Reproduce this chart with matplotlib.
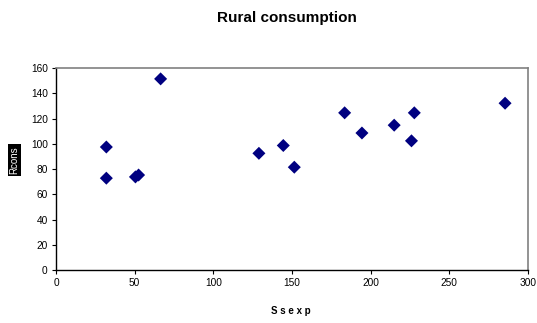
import matplotlib.pyplot as plt

plt.rcParams['font.family'] = ['Liberation Sans', 'DejaVu Sans']

# Rural consumption against Ssexp
ssexp = [32, 32, 50.5, 52.5, 66.5, 129, 144.5, 151.5, 183.5, 194.5, 215, 226, 227.8, 285.5]
rcons = [97.5, 72.8, 73.8, 75.3, 151.5, 92.5, 98.7, 81.5, 124.6, 108.6, 114.8, 102.4, 124.6, 132.2]

fig = plt.figure(figsize=(5.37, 3.23), dpi=100)
ax = fig.add_axes([0.1043, 0.164, 0.8787, 0.625])

ax.scatter(ssexp, rcons, marker='D', s=44, color='#000080', edgecolors='none', zorder=3)

ax.set_xlim(0, 300)
ax.set_ylim(0, 160)
ax.set_xticks(range(0, 301, 50))
ax.set_yticks(range(0, 161, 20))
ax.tick_params(labelsize=7.3, length=3, width=0.8, color='black', pad=3)

for side in ['top', 'right']:
    ax.spines[side].set_color('#808080')
    ax.spines[side].set_linewidth(1.2)
for side in ['left', 'bottom']:
    ax.spines[side].set_color('black')
    ax.spines[side].set_linewidth(1.0)

fig.text(0.534, 0.945, 'Rural consumption', ha='center', va='center',
         fontsize=11, fontweight='bold')
fig.text(0.541, 0.037, 'S s e x p', ha='center', va='center',
         fontsize=7, fontweight='bold')
fig.text(0.027, 0.505, 'Rcons', ha='center', va='center', rotation=90,
         fontsize=7, color='white',
         bbox=dict(boxstyle='square,pad=0.2', facecolor='black', edgecolor='none'))

fig.savefig('out.png', dpi=100)
